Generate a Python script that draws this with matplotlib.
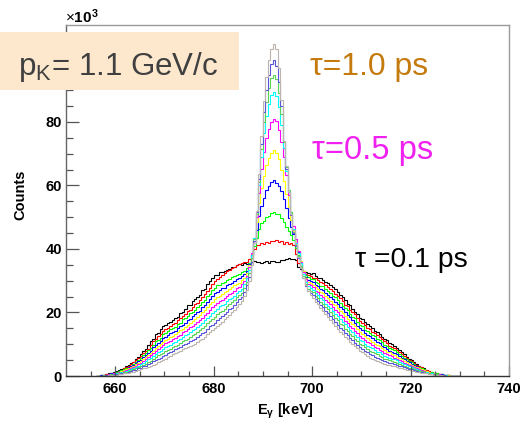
import numpy as np
import matplotlib
matplotlib.use("Agg")
import matplotlib.pyplot as plt
from matplotlib.patches import Rectangle

plt.rcParams['font.family'] = ['Liberation Sans', 'DejaVu Sans']
plt.rcParams['mathtext.fontset'] = 'custom'
plt.rcParams['mathtext.rm'] = 'Liberation Sans'
plt.rcParams['mathtext.bf'] = 'Liberation Sans:bold'
plt.rcParams['mathtext.it'] = 'Liberation Sans:italic'

# Photon energy binning (keV)
E_START = 656.0
BIN_WIDTH = 0.5

# Simulated gamma spectra, counts per bin in units of 10^3, one per lifetime
counts_tau_0p1 = [
    0.0, 0.1, 0.2, 0.3, 0.5, 0.8, 1.0, 1.2, 1.5, 1.9,
    2.2, 2.5, 3.1, 3.5, 4.1, 4.5, 5.3, 6.1, 6.9, 7.9,
    8.6, 9.7, 10.9, 11.8, 13.2, 13.5, 14.7, 15.6, 16.0, 16.7,
    16.9, 17.6, 18.3, 18.6, 19.8, 20.3, 21.1, 22.2, 22.4, 23.5,
    24.3, 25.0, 25.6, 27.0, 27.4, 29.0, 29.9, 30.7, 31.8, 31.9,
    32.7, 32.6, 33.2, 33.5, 33.8, 34.3, 34.4, 34.9, 35.2, 34.9,
    35.5, 35.2, 35.6, 35.9, 36.1, 35.8, 36.0, 35.6, 35.9, 36.1,
    35.7, 36.2, 36.3, 35.9, 36.0, 36.4, 36.6, 36.9, 37.1, 36.9,
    36.8, 36.4, 34.2, 33.6, 33.2, 32.6, 32.4, 32.0, 32.3, 31.4,
    30.9, 30.8, 30.1, 29.7, 29.3, 28.5, 27.9, 27.4, 26.3, 25.6,
    24.9, 23.9, 22.8, 22.3, 21.2, 20.3, 19.4, 18.4, 17.9, 17.1,
    16.4, 15.8, 15.1, 14.3, 13.8, 13.3, 12.4, 11.6, 11.2, 10.4,
    10.1, 9.4, 8.8, 8.1, 7.4, 6.8, 6.1, 5.5, 4.9, 4.4,
    3.8, 3.3, 2.8, 2.4, 2.0, 1.7, 1.3, 1.1, 0.9, 0.7,
    0.5, 0.4, 0.3, 0.2, 0.1, 0.1, 0.0, 0.0,
]
counts_tau_0p2 = [
    0.0, 0.1, 0.2, 0.4, 0.5, 0.7, 0.9, 1.1, 1.4, 1.7,
    2.0, 2.4, 2.8, 3.1, 3.7, 4.3, 4.9, 5.6, 6.2, 7.1,
    7.9, 8.6, 9.8, 10.9, 11.8, 12.5, 13.2, 14.3, 14.7, 15.2,
    15.8, 16.5, 16.7, 17.6, 18.4, 18.8, 19.5, 20.5, 20.9, 21.8,
    22.7, 23.1, 23.8, 25.0, 25.9, 26.9, 27.6, 28.9, 29.8, 30.5,
    31.1, 31.8, 32.3, 32.9, 33.4, 34.0, 34.2, 34.8, 35.3, 35.5,
    35.9, 36.0, 36.8, 38.2, 40.0, 41.3, 41.3, 42.0, 41.5, 42.3,
    41.9, 42.6, 42.4, 42.8, 42.1, 42.5, 41.7, 42.2, 41.6, 42.0,
    41.2, 38.5, 35.6, 34.0, 32.9, 32.1, 31.9, 31.6, 31.0, 30.8,
    30.2, 29.7, 29.3, 28.6, 28.0, 27.5, 26.9, 25.9, 25.1, 24.6,
    23.6, 22.5, 21.9, 20.9, 20.0, 19.4, 18.4, 17.3, 16.7, 16.0,
    15.2, 14.7, 14.0, 13.5, 12.8, 12.3, 11.5, 10.9, 10.3, 9.6,
    9.1, 8.8, 8.1, 7.5, 6.8, 6.3, 5.6, 5.1, 4.6, 4.0,
    3.5, 3.0, 2.7, 2.3, 1.9, 1.6, 1.3, 1.0, 0.8, 0.7,
    0.5, 0.4, 0.3, 0.2, 0.1, 0.1, 0.0, 0.0,
]
counts_tau_0p3 = [
    0.0, 0.1, 0.2, 0.3, 0.4, 0.6, 0.8, 1.0, 1.2, 1.6,
    1.8, 2.1, 2.5, 2.9, 3.3, 3.8, 4.5, 5.1, 5.6, 6.5,
    7.3, 8.1, 8.8, 9.9, 10.9, 11.4, 12.1, 13.2, 13.5, 14.2,
    14.7, 15.0, 15.5, 16.4, 16.8, 17.8, 18.2, 18.9, 19.7, 20.2,
    20.8, 21.8, 22.2, 23.4, 24.0, 25.3, 25.9, 27.1, 27.6, 28.5,
    28.8, 29.4, 29.7, 30.3, 30.5, 31.2, 31.6, 31.9, 32.1, 32.6,
    33.2, 34.0, 35.6, 38.0, 41.0, 43.5, 46.3, 48.1, 48.9, 50.2,
    50.4, 51.3, 51.5, 50.9, 51.0, 49.8, 48.6, 47.0, 45.6, 44.5,
    42.8, 40.3, 38.0, 35.5, 33.2, 31.9, 31.3, 30.6, 30.4, 29.6,
    29.2, 28.4, 28.3, 27.3, 26.9, 26.2, 25.1, 24.8, 23.9, 22.9,
    22.1, 21.4, 20.7, 19.5, 18.6, 18.2, 17.0, 16.1, 15.6, 14.6,
    14.3, 13.4, 12.8, 12.5, 11.7, 11.2, 10.7, 9.9, 9.3, 8.9,
    8.4, 8.1, 7.5, 7.0, 6.4, 5.8, 5.2, 4.8, 4.3, 3.7,
    3.3, 2.9, 2.5, 2.1, 1.7, 1.4, 1.2, 0.9, 0.8, 0.6,
    0.5, 0.4, 0.3, 0.2, 0.1, 0.1, 0.0, 0.0,
]
counts_tau_0p4 = [
    0.0, 0.1, 0.2, 0.3, 0.4, 0.6, 0.8, 1.0, 1.1, 1.4,
    1.7, 2.0, 2.3, 2.7, 3.1, 3.5, 4.1, 4.6, 5.1, 6.0,
    6.6, 7.3, 8.0, 9.0, 9.9, 10.4, 11.1, 11.9, 12.4, 13.0,
    13.5, 13.9, 14.3, 15.1, 15.7, 16.2, 16.8, 17.6, 18.0, 18.9,
    19.5, 20.0, 20.6, 21.7, 22.4, 23.3, 24.1, 25.2, 26.1, 26.5,
    27.2, 27.6, 27.8, 28.5, 29.0, 29.4, 30.0, 30.4, 30.8, 31.4,
    32.0, 33.2, 35.2, 38.4, 42.0, 46.0, 50.3, 53.4, 56.1, 58.4,
    59.9, 61.1, 61.6, 60.9, 59.7, 58.2, 55.6, 52.9, 49.8, 47.0,
    44.6, 42.0, 39.0, 36.0, 33.0, 31.2, 30.2, 30.0, 29.6, 28.8,
    28.3, 27.5, 27.1, 26.2, 25.6, 25.0, 24.1, 23.2, 22.7, 21.7,
    21.0, 20.3, 19.1, 18.6, 17.6, 16.8, 15.8, 15.2, 14.4, 13.6,
    13.0, 12.5, 11.9, 11.2, 10.8, 10.3, 9.6, 9.0, 8.6, 8.0,
    7.6, 7.3, 6.8, 6.3, 5.8, 5.2, 4.8, 4.3, 3.9, 3.4,
    3.0, 2.6, 2.3, 1.9, 1.6, 1.3, 1.1, 0.9, 0.7, 0.6,
    0.5, 0.3, 0.2, 0.2, 0.1, 0.1, 0.0, 0.0,
]
counts_tau_0p5 = [
    0.0, 0.1, 0.1, 0.3, 0.4, 0.5, 0.7, 0.9, 1.0, 1.3,
    1.5, 1.8, 2.1, 2.4, 2.7, 3.2, 3.7, 4.2, 4.7, 5.4,
    5.9, 6.6, 7.3, 8.0, 8.9, 9.4, 10.0, 10.8, 11.3, 11.7,
    12.3, 12.6, 13.1, 13.8, 14.4, 14.9, 15.4, 16.2, 16.8, 17.2,
    17.8, 18.6, 19.1, 20.0, 20.7, 21.7, 22.6, 23.3, 24.1, 24.9,
    25.2, 25.9, 26.3, 26.9, 27.3, 28.0, 28.5, 29.0, 29.4, 30.1,
    31.0, 32.4, 34.8, 38.5, 43.0, 48.5, 54.5, 59.1, 63.1, 66.4,
    68.7, 70.3, 71.0, 70.1, 68.2, 65.0, 61.3, 57.4, 53.2, 49.1,
    45.8, 42.6, 39.5, 36.3, 33.0, 30.9, 29.6, 29.3, 28.8, 27.9,
    27.3, 26.6, 26.1, 25.2, 24.6, 23.7, 22.8, 22.3, 21.4, 20.5,
    19.7, 18.8, 18.0, 17.0, 16.3, 15.7, 14.8, 13.8, 13.2, 12.5,
    11.9, 11.4, 10.8, 10.2, 9.8, 9.3, 8.8, 8.2, 7.6, 7.4,
    6.9, 6.6, 6.1, 5.7, 5.2, 4.7, 4.3, 3.9, 3.5, 3.1,
    2.7, 2.4, 2.1, 1.8, 1.5, 1.2, 1.0, 0.8, 0.7, 0.5,
    0.4, 0.3, 0.2, 0.2, 0.1, 0.1, 0.0, 0.0,
]
counts_tau_0p6 = [
    0.0, 0.1, 0.1, 0.2, 0.3, 0.5, 0.6, 0.8, 0.9, 1.2,
    1.3, 1.6, 1.9, 2.1, 2.5, 2.8, 3.2, 3.8, 4.2, 4.8,
    5.2, 5.9, 6.5, 7.2, 7.9, 8.6, 9.0, 9.8, 10.3, 10.6,
    11.1, 11.5, 12.0, 12.5, 13.0, 13.8, 14.1, 14.8, 15.3, 15.7,
    16.3, 17.0, 17.5, 18.4, 19.2, 19.9, 20.7, 21.6, 22.2, 23.0,
    23.7, 24.0, 24.6, 25.3, 25.8, 26.2, 26.9, 27.6, 28.0, 28.9,
    30.0, 31.6, 34.2, 38.6, 43.5, 50.0, 57.5, 65.2, 70.4, 74.8,
    77.9, 80.1, 81.0, 80.2, 77.5, 73.6, 68.8, 63.4, 57.1, 51.6,
    47.2, 43.0, 39.5, 36.0, 32.8, 30.5, 28.9, 28.5, 27.9, 26.9,
    26.4, 25.6, 25.0, 24.0, 23.2, 22.6, 21.7, 20.7, 20.1, 19.1,
    18.5, 17.4, 16.8, 15.8, 15.0, 14.3, 13.5, 12.6, 12.1, 11.3,
    10.7, 10.3, 9.8, 9.1, 8.8, 8.2, 7.9, 7.2, 6.8, 6.6,
    6.2, 5.8, 5.5, 5.1, 4.7, 4.2, 3.9, 3.5, 3.2, 2.8,
    2.5, 2.1, 1.9, 1.5, 1.3, 1.1, 0.9, 0.7, 0.6, 0.5,
    0.4, 0.3, 0.2, 0.1, 0.1, 0.0, 0.0, 0.0,
]
counts_tau_0p7 = [
    0.0, 0.0, 0.1, 0.2, 0.3, 0.4, 0.5, 0.7, 0.8, 1.0,
    1.2, 1.4, 1.6, 1.9, 2.1, 2.5, 2.8, 3.3, 3.7, 4.1,
    4.6, 5.2, 5.7, 6.3, 6.9, 7.5, 8.0, 8.6, 9.0, 9.5,
    9.8, 10.4, 10.8, 11.3, 11.7, 12.4, 12.9, 13.2, 13.8, 14.4,
    14.7, 15.5, 16.0, 16.6, 17.5, 18.3, 18.9, 19.8, 20.5, 21.1,
    21.9, 22.3, 22.8, 23.6, 24.2, 24.7, 25.3, 26.1, 26.8, 27.4,
    29.0, 30.8, 33.5, 38.0, 43.5, 51.0, 60.0, 69.0, 76.4, 81.9,
    85.7, 88.4, 89.4, 88.2, 84.6, 79.0, 71.8, 64.5, 58.0, 51.6,
    46.3, 42.0, 38.8, 35.5, 32.2, 29.6, 28.2, 27.7, 27.1, 26.1,
    25.4, 24.5, 23.9, 22.8, 22.1, 21.3, 20.4, 19.4, 18.8, 17.8,
    17.0, 16.3, 15.5, 14.5, 13.8, 13.0, 12.3, 11.4, 10.9, 10.2,
    9.6, 9.2, 8.7, 8.1, 7.7, 7.4, 6.9, 6.4, 6.1, 5.7,
    5.4, 5.2, 4.9, 4.5, 4.1, 3.7, 3.4, 3.0, 2.8, 2.4,
    2.2, 1.9, 1.7, 1.4, 1.2, 1.0, 0.8, 0.6, 0.5, 0.4,
    0.3, 0.2, 0.2, 0.1, 0.1, 0.0, 0.0, 0.0,
]
counts_tau_0p8 = [
    0.0, 0.0, 0.1, 0.2, 0.2, 0.3, 0.5, 0.6, 0.7, 0.9,
    1.0, 1.2, 1.4, 1.6, 1.8, 2.2, 2.4, 2.8, 3.1, 3.6,
    3.9, 4.4, 4.8, 5.5, 5.9, 6.5, 6.9, 7.3, 7.8, 8.3,
    8.6, 9.2, 9.6, 9.9, 10.4, 11.1, 11.4, 11.8, 12.3, 12.9,
    13.2, 13.9, 14.5, 15.0, 15.7, 16.6, 17.3, 18.0, 18.6, 19.5,
    20.1, 20.6, 21.1, 22.0, 22.6, 23.2, 23.8, 24.8, 25.5, 26.1,
    27.8, 29.6, 32.4, 37.0, 43.0, 51.0, 61.0, 71.5, 80.1, 86.3,
    90.7, 93.8, 94.7, 93.4, 89.0, 82.5, 73.6, 65.9, 58.6, 51.5,
    45.4, 41.2, 37.8, 34.5, 31.5, 29.0, 27.5, 26.8, 26.3, 25.2,
    24.5, 23.4, 22.8, 21.7, 21.0, 20.1, 19.2, 18.2, 17.5, 16.5,
    15.9, 14.9, 14.2, 13.3, 12.6, 11.8, 11.1, 10.2, 9.7, 9.0,
    8.6, 8.0, 7.6, 7.1, 6.8, 6.4, 6.0, 5.5, 5.3, 4.9,
    4.7, 4.4, 4.2, 3.8, 3.5, 3.2, 2.9, 2.6, 2.4, 2.1,
    1.9, 1.6, 1.5, 1.2, 1.1, 0.9, 0.7, 0.5, 0.5, 0.4,
    0.3, 0.2, 0.1, 0.1, 0.1, 0.0, 0.0, 0.0,
]
counts_tau_0p9 = [
    0.0, 0.0, 0.1, 0.1, 0.2, 0.3, 0.4, 0.5, 0.6, 0.7,
    0.8, 1.0, 1.1, 1.3, 1.5, 1.8, 2.0, 2.4, 2.6, 3.0,
    3.3, 3.7, 4.0, 4.6, 4.9, 5.5, 5.8, 6.3, 6.7, 7.2,
    7.5, 7.9, 8.4, 8.7, 9.1, 9.7, 10.1, 10.5, 10.9, 11.4,
    11.7, 12.4, 12.9, 13.5, 14.0, 14.9, 15.6, 16.1, 16.7, 17.6,
    18.3, 18.8, 19.4, 20.3, 21.0, 21.5, 22.2, 23.3, 24.1, 24.8,
    26.6, 28.5, 31.2, 36.0, 42.5, 51.5, 62.0, 73.0, 83.2, 90.0,
    94.7, 98.1, 99.4, 97.6, 92.6, 85.1, 74.0, 65.2, 57.8, 50.8,
    44.9, 40.8, 37.2, 34.0, 31.0, 28.4, 26.8, 26.0, 25.4, 24.3,
    23.5, 22.4, 21.7, 20.6, 19.8, 18.8, 17.9, 16.9, 16.2, 15.2,
    14.6, 13.6, 13.0, 12.0, 11.4, 10.5, 9.9, 9.1, 8.6, 7.9,
    7.4, 6.9, 6.5, 6.1, 5.7, 5.3, 5.0, 4.7, 4.4, 4.2,
    4.0, 3.7, 3.5, 3.2, 3.0, 2.7, 2.5, 2.3, 2.1, 1.8,
    1.7, 1.4, 1.3, 1.1, 0.9, 0.7, 0.6, 0.5, 0.4, 0.3,
    0.2, 0.2, 0.1, 0.1, 0.1, 0.0, 0.0, 0.0,
]
counts_tau_1p0 = [
    0.0, 0.0, 0.0, 0.1, 0.1, 0.2, 0.3, 0.4, 0.4, 0.6,
    0.6, 0.8, 0.9, 1.0, 1.2, 1.4, 1.6, 1.9, 2.1, 2.4,
    2.6, 2.9, 3.2, 3.6, 3.9, 4.4, 4.7, 5.1, 5.5, 5.9,
    6.3, 6.8, 7.1, 7.5, 7.9, 8.4, 8.7, 9.0, 9.4, 9.9,
    10.2, 10.8, 11.2, 11.8, 12.4, 13.1, 13.7, 14.4, 15.0, 15.6,
    16.4, 17.1, 17.8, 18.6, 19.3, 20.1, 20.8, 21.6, 22.6, 23.6,
    25.2, 27.2, 30.0, 35.0, 42.0, 52.0, 63.5, 75.5, 86.7, 94.2,
    99.4, 103.1, 104.6, 102.8, 97.0, 87.0, 74.0, 66.0, 58.0, 51.0,
    46.0, 41.5, 37.5, 34.0, 31.0, 28.5, 26.8, 25.5, 24.6, 23.4,
    22.6, 21.4, 20.6, 19.5, 18.6, 17.6, 16.6, 15.7, 14.9, 14.0,
    13.3, 12.4, 11.7, 10.8, 10.1, 9.3, 8.7, 7.9, 7.4, 6.8,
    6.3, 5.8, 5.4, 5.0, 4.7, 4.4, 4.1, 3.8, 3.6, 3.4,
    3.2, 3.0, 2.8, 2.6, 2.4, 2.2, 2.0, 1.8, 1.7, 1.5,
    1.4, 1.2, 1.1, 0.9, 0.8, 0.7, 0.5, 0.4, 0.4, 0.3,
    0.2, 0.1, 0.1, 0.1, 0.0, 0.0, 0.0, 0.0,
]

spectra = [
    counts_tau_0p1, counts_tau_0p2, counts_tau_0p3, counts_tau_0p4,
    counts_tau_0p5, counts_tau_0p6, counts_tau_0p7, counts_tau_0p8,
    counts_tau_0p9, counts_tau_1p0,
]
line_colors = [
    '#000000', '#ff0000', '#00ff00', '#0000ff', '#ffff00',
    '#ff00ff', '#00ffff', '#59d454', '#5954d9', '#bdb5ad',
]

x_ticks = [660, 680, 700, 720, 740]
y_ticks = [0, 20, 40, 60, 80]

W, H = 526, 428
fig = plt.figure(figsize=(W / 100, H / 100), dpi=100)
fig.patch.set_facecolor('white')
ax = fig.add_axes([66 / W, 1 - 376 / H, (509 - 66) / W, (376 - 25) / H])

for vals, col in zip(spectra, line_colors):
    vals = np.asarray(vals, dtype=float)
    edges = E_START + BIN_WIDTH * np.arange(len(vals) + 1)
    ax.stairs(vals, edges, color=col, lw=0.8)

ax.set_xlim(650, 740)
ax.set_ylim(0, 110.5)
ax.set_xticks(x_ticks)
ax.set_xticks(np.arange(655, 740, 5), minor=True)
ax.set_yticks(y_ticks)
ax.set_yticks(np.arange(5, 110, 5), minor=True)
ax.set_xticklabels([str(t) for t in x_ticks], fontsize=10.5, fontweight='bold')
ax.set_yticklabels([str(t) for t in y_ticks], fontsize=10.5, fontweight='bold')
ax.tick_params(which='both', direction='in', top=False, right=False, colors='#555555', width=0.9)
ax.tick_params(axis='y', which='major', length=9.5, pad=3)
ax.tick_params(axis='y', which='minor', length=4.8)
ax.tick_params(axis='x', which='major', length=7, pad=4)
ax.tick_params(axis='x', which='minor', length=3.4)
for lab in ax.get_xticklabels() + ax.get_yticklabels():
    lab.set_color('black')
ax.spines['left'].set_color('#666666')
ax.spines['bottom'].set_color('#333333')
ax.spines['top'].set_color('#9a9a9a')
ax.spines['right'].set_color('#9a9a9a')
for sp in ax.spines.values():
    sp.set_linewidth(1.0)


def fx(px):
    return px / W


def fy(py):
    return 1 - py / H


fig.text(fx(20), fy(195), 'Counts', rotation=90, ha='center', va='center',
         fontsize=10.5, fontweight='bold')
fig.text(fx(257), fy(415), 'E$_{\\mathbf{γ}}$ [keV]', ha='left', va='baseline',
         fontsize=10.5, fontweight='bold')
fig.text(fx(65), fy(23), '$\\times\\mathbf{10}^{\\mathbf{3}}$', ha='left', va='baseline',
         fontsize=11)

fig.add_artist(Rectangle((0, fy(90)), 239 / W, 58 / H, transform=fig.transFigure,
                         facecolor='#fde8ce', edgecolor='none', zorder=5))
fig.text(fx(18), fy(75), 'p$_\\mathrm{K}$= 1.1 GeV/c', ha='left', va='baseline',
         fontsize=22.5, color='#404040', zorder=6)

fig.text(fx(310), fy(75), 'τ=1.0 ps', ha='left', va='baseline', fontsize=23, color='#c47a0c')
fig.text(fx(312), fy(159), 'τ=0.5 ps', ha='left', va='baseline', fontsize=23.5, color='#f020f0')
fig.text(fx(355), fy(267), 'τ =0.1 ps', ha='left', va='baseline', fontsize=20.4, color='black')

fig.savefig('out.png', dpi=100)
